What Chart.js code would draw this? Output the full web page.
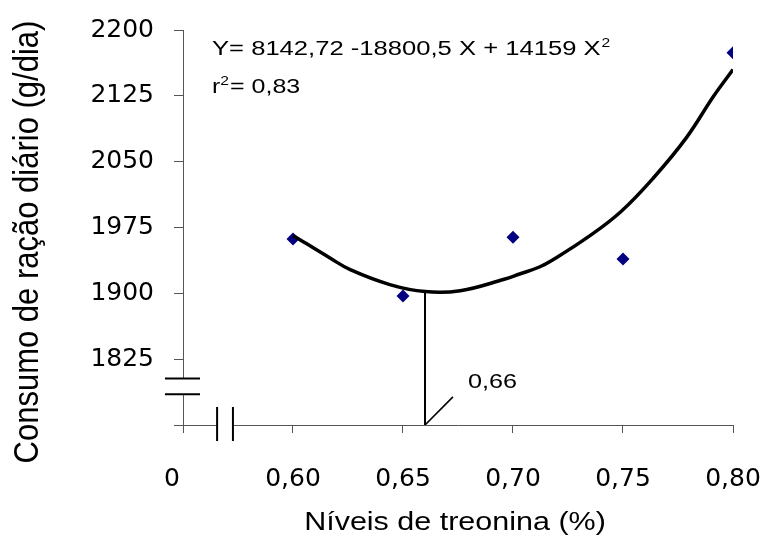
<!DOCTYPE html>
<html><head><meta charset="utf-8">
<script src="https://cdn.jsdelivr.net/npm/chart.js@4.4.0/dist/chart.umd.min.js"></script>
<style>html,body{margin:0;padding:0;background:#fff;} #wrap{width:768px;height:538px;}</style>
</head><body><div id="wrap"><canvas id="c" width="768" height="538"></canvas></div>
<script>
// ---- data ----
const levels = [0.60, 0.65, 0.70, 0.75, 0.80];
const intake = [1962, 1897, 1964, 1939, 2174];
const fitX = [0.600, 0.617, 0.626, 0.644, 0.660, 0.676, 0.696, 0.703, 0.712, 0.718, 0.734, 0.749, 0.764, 0.779, 0.791, 0.800];
const fitY = [1966, 1940, 1927, 1910, 1902, 1903, 1916, 1922, 1930, 1938, 1964, 1993, 2032, 2078, 2124, 2155];
const optimumX = [0.66, 0.66];
const optimumY = [1902, 1750];
const leaderX = [0.66, 0.6727];
const leaderY = [1750, 1782];
const xTickValues = [0.55, 0.60, 0.65, 0.70, 0.75, 0.80];
const xTickLabels = ['0', '0,60', '0,65', '0,70', '0,75', '0,80'];
const yTickValues = [1750, 1825, 1900, 1975, 2050, 2125, 2200];
const yTickLabels = ['', '1825', '1900', '1975', '2050', '2125', '2200'];
const xBreak = [0.5655, 0.5727];
const yBreak = [1785, 1803];
const equationText = 'Y= 8142,72 -18800,5 X + 14159 X';
const r2Value = '= 0,83';
const optimumLabel = '0,66';
const xTitle = 'Níveis de treonina (%)';
const yTitle = 'Consumo de ração diário (g/dia)';

const SANS = '"Liberation Sans", Arial, sans-serif';
const TICKFONT = '"DejaVu Sans", sans-serif';
const TICKSIZE = 25;

function stretchedText(ctx, str, x, y, size, sx, align, rotate) {
  ctx.save();
  ctx.translate(x, y);
  ctx.scale(sx, 1);
  if (rotate) ctx.rotate(rotate);
  ctx.font = size + 'px ' + SANS;
  ctx.textAlign = align || 'left';
  ctx.fillText(str, 0, 0);
  const w = ctx.measureText(str).width * sx;
  ctx.restore();
  return w;
}

const overlay = {
  id: 'overlay',
  afterDraw(chart) {
    const {ctx, chartArea, scales: {x, y}} = chart;
    ctx.save();
    // y-axis break
    const ax = chartArea.left;
    const yb1 = y.getPixelForValue(yBreak[0]);
    const yb2 = y.getPixelForValue(yBreak[1]);
    ctx.fillStyle = '#fff';
    ctx.fillRect(ax - 3, yb2, 6, yb1 - yb2);
    ctx.strokeStyle = '#000';
    ctx.lineWidth = 2;
    ctx.beginPath();
    ctx.moveTo(ax - 18, yb1); ctx.lineTo(ax + 17, yb1);
    ctx.moveTo(ax - 18, yb2); ctx.lineTo(ax + 17, yb2);
    ctx.stroke();
    // x-axis break
    const ay = chartArea.bottom;
    const xb1 = x.getPixelForValue(xBreak[0]);
    const xb2 = x.getPixelForValue(xBreak[1]);
    ctx.fillStyle = '#fff';
    ctx.fillRect(xb1, ay - 3, xb2 - xb1, 6);
    ctx.beginPath();
    ctx.moveTo(xb1, ay - 18); ctx.lineTo(xb1, ay + 16);
    ctx.moveTo(xb2, ay - 18); ctx.lineTo(xb2, ay + 16);
    ctx.stroke();

    ctx.fillStyle = '#000';
    ctx.textBaseline = 'alphabetic';
    // equation
    const ex = chartArea.left + 29;
    const w1 = stretchedText(ctx, equationText, ex, 55, 20, 1.28, 'left');
    stretchedText(ctx, '2', ex + w1 + 1, 47, 13, 1.2, 'left');
    const wr = stretchedText(ctx, 'r', ex, 93, 20, 1.25, 'left');
    const w2 = stretchedText(ctx, '2', ex + wr, 85, 13, 1.2, 'left');
    stretchedText(ctx, r2Value, ex + wr + w2 + 1, 93, 20, 1.25, 'left');
    // optimum label
    const lx = x.getPixelForValue(leaderX[1]);
    const ly = y.getPixelForValue(leaderY[1]);
    stretchedText(ctx, optimumLabel, lx + 15, ly - 9, 21, 1.2, 'left');
    // "0" label of the x axis
    ctx.font = TICKSIZE + 'px ' + TICKFONT;
    ctx.textAlign = 'center';
    ctx.textBaseline = 'middle';
    ctx.fillText(xTickLabels[0], x.getPixelForValue(xTickValues[0]) - 11, chartArea.bottom + 8 + 31 + TICKSIZE * 0.6);
    // axis titles
    ctx.textBaseline = 'middle';
    stretchedText(ctx, yTitle, 28, 242, 31, 1.15, 'center', -Math.PI / 2);
    ctx.textBaseline = 'alphabetic';
    stretchedText(ctx, xTitle, 455, 530, 26, 1.173, 'center');
    ctx.restore();
  }
};

new Chart(document.getElementById('c'), {
  type: 'scatter',
  data: {
    datasets: [
      {
        type: 'line',
        data: fitX.map((v, i) => ({x: v, y: fitY[i]})),
        borderColor: '#000', borderWidth: 3.5, pointRadius: 0, tension: 0.4, fill: false
      },
      {
        data: levels.map((v, i) => ({x: v, y: intake[i]})),
        pointStyle: 'rectRot', pointRadius: 6.5, pointHoverRadius: 6.5,
        backgroundColor: '#000080', borderColor: '#000080', borderWidth: 0
      },
      {
        type: 'line',
        data: optimumX.map((v, i) => ({x: v, y: optimumY[i]})),
        borderColor: '#000', borderWidth: 2, pointRadius: 0, tension: 0, fill: false
      },
      {
        type: 'line',
        data: leaderX.map((v, i) => ({x: v, y: leaderY[i]})),
        borderColor: '#000', borderWidth: 1.6, pointRadius: 0, tension: 0, fill: false
      }
    ]
  },
  options: {
    responsive: false,
    animation: false,
    devicePixelRatio: 1,
    layout: {padding: {left: 0, right: 35, top: 30, bottom: 0}},
    plugins: {legend: {display: false}, tooltip: {enabled: false}},
    scales: {
      x: {
        type: 'linear', min: 0.55, max: 0.80,
        afterBuildTicks: s => { s.ticks = xTickValues.map(v => ({value: v})); },
        afterFit: s => { s.height = 113; s.paddingLeft = 0; s.paddingRight = 0; },
        grid: {drawOnChartArea: false, drawTicks: true, tickLength: 8, color: '#555', tickWidth: 1},
        border: {display: true, color: '#555', width: 1},
        ticks: {
          padding: 31, autoSkip: false, maxRotation: 0, color: '#000',
          font: {family: TICKFONT, size: TICKSIZE},
          callback: (v, i) => i === 0 ? '' : xTickLabels[i]
        }
      },
      y: {
        min: 1750, max: 2200,
        afterBuildTicks: s => { s.ticks = yTickValues.map(v => ({value: v})); },
        afterFit: s => { s.width = 183; s.paddingTop = 0; s.paddingBottom = 0; },
        grid: {drawOnChartArea: false, drawTicks: true, tickLength: 9, color: '#555', tickWidth: 1},
        border: {display: true, color: '#555', width: 1},
        ticks: {
          padding: 20, color: '#000',
          font: {family: TICKFONT, size: TICKSIZE},
          callback: (v, i) => yTickLabels[i]
        }
      }
    }
  },
  plugins: [overlay]
});
</script></body></html>
